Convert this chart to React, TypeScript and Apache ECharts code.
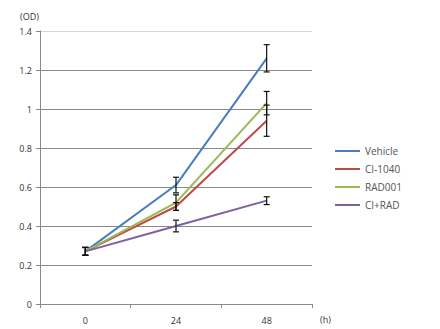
import React, { useEffect, useRef } from "react";
import * as echarts from "echarts";

const categories = ["0", "24", "48"];
const seriesNames = ["Vehicle", "CI-1040", "RAD001", "CI+RAD"];
const vehicle = [0.27, 0.61, 1.26];
const ci1040 = [0.27, 0.5, 0.94];
const rad001 = [0.27, 0.52, 1.03];
const ciRad = [0.27, 0.4, 0.53];
const vehicleErr = [0.02, 0.04, 0.07];
const ci1040Err = [0.02, 0.02, 0.08];
const rad001Err = [0.02, 0.04, 0.06];
const ciRadErr = [0.02, 0.03, 0.02];
const colors = ["#4a7ebb", "#be4b48", "#98b954", "#7d60a0"];

const allValues = [vehicle, ci1040, rad001, ciRad];
const allErrs = [vehicleErr, ci1040Err, rad001Err, ciRadErr];

export default function App() {
  const ref = useRef<HTMLDivElement>(null);
  useEffect(() => {
    if (!ref.current) return;
    const chart = echarts.init(ref.current, undefined, { renderer: "svg" });
    const font = "Open Sans";
    const lineSeries = seriesNames.map((name, i) => ({
      name,
      type: "line",
      data: allValues[i],
      symbol: "none",
      lineStyle: { color: colors[i], width: 2 },
      itemStyle: { color: colors[i] },
      z: 3,
    }));
    const errSeries = seriesNames.map((name, i) => ({
      name: name + " err",
      type: "custom",
      data: allValues[i].map((v, j) => [j, v - allErrs[i][j], v + allErrs[i][j]]),
      z: 4,
      renderItem: (params: any, api: any) => {
        const x = api.value(0);
        const lo = api.coord([x, api.value(1)]);
        const hi = api.coord([x, api.value(2)]);
        const w = 3;
        const style = { stroke: "#111", lineWidth: 1.2 };
        return {
          type: "group",
          children: [
            { type: "line", shape: { x1: lo[0], y1: lo[1], x2: hi[0], y2: hi[1] }, style },
            { type: "line", shape: { x1: lo[0] - w, y1: lo[1], x2: lo[0] + w, y2: lo[1] }, style },
            { type: "line", shape: { x1: hi[0] - w, y1: hi[1], x2: hi[0] + w, y2: hi[1] }, style },
          ],
        };
      },
    }));
    chart.setOption({
      animation: false,
      backgroundColor: "#ffffff",
      grid: { left: 40, right: 128, top: 31, bottom: 25, containLabel: false },
      legend: {
        data: seriesNames,
        orient: "vertical",
        left: 330,
        top: 141,
        icon: "rect",
        itemWidth: 25,
        itemHeight: 2,
        itemGap: 8,
        textStyle: { fontFamily: font, fontSize: 10, color: "#555" },
      },
      xAxis: {
        type: "category",
        data: categories,
        boundaryGap: true,
        axisLine: { lineStyle: { color: "#8a8a8a", width: 1 } },
        axisTick: { show: true, length: 4, lineStyle: { color: "#8a8a8a" } },
        axisLabel: { fontFamily: font, fontSize: 9, color: "#333", margin: 12 },
        splitLine: { show: false },
      },
      yAxis: {
        type: "value",
        min: 0,
        max: 1.4,
        interval: 0.2,
        axisLine: { show: true, lineStyle: { color: "#8a8a8a", width: 1 } },
        axisTick: { show: true, length: 4, lineStyle: { color: "#8a8a8a" } },
        axisLabel: {
          fontFamily: font,
          fontSize: 9,
          color: "#333",
          margin: 8,
          formatter: (v: number) => String(Math.round(v * 10) / 10),
        },
        splitLine: {
          show: true,
          lineStyle: {
            color: ["#8a8a8a", "#8a8a8a", "#8a8a8a", "#8a8a8a", "#8a8a8a", "#8a8a8a", "#8a8a8a", "#d8d8d8"],
            width: 1,
          },
        },
      },
      graphic: [
        { type: "text", left: 20, top: 12, style: { text: "(OD)", fontFamily: font, fontSize: 9, fill: "#333" } },
        { type: "text", left: 320, top: 315, style: { text: "(h)", fontFamily: font, fontSize: 9, fill: "#333" } },
      ],
      series: [...lineSeries, ...errSeries],
    });
    return () => chart.dispose();
  }, []);
  return <div ref={ref} style={{ width: 440, height: 329, position: "absolute", left: 0, top: 0 }} />;
}
